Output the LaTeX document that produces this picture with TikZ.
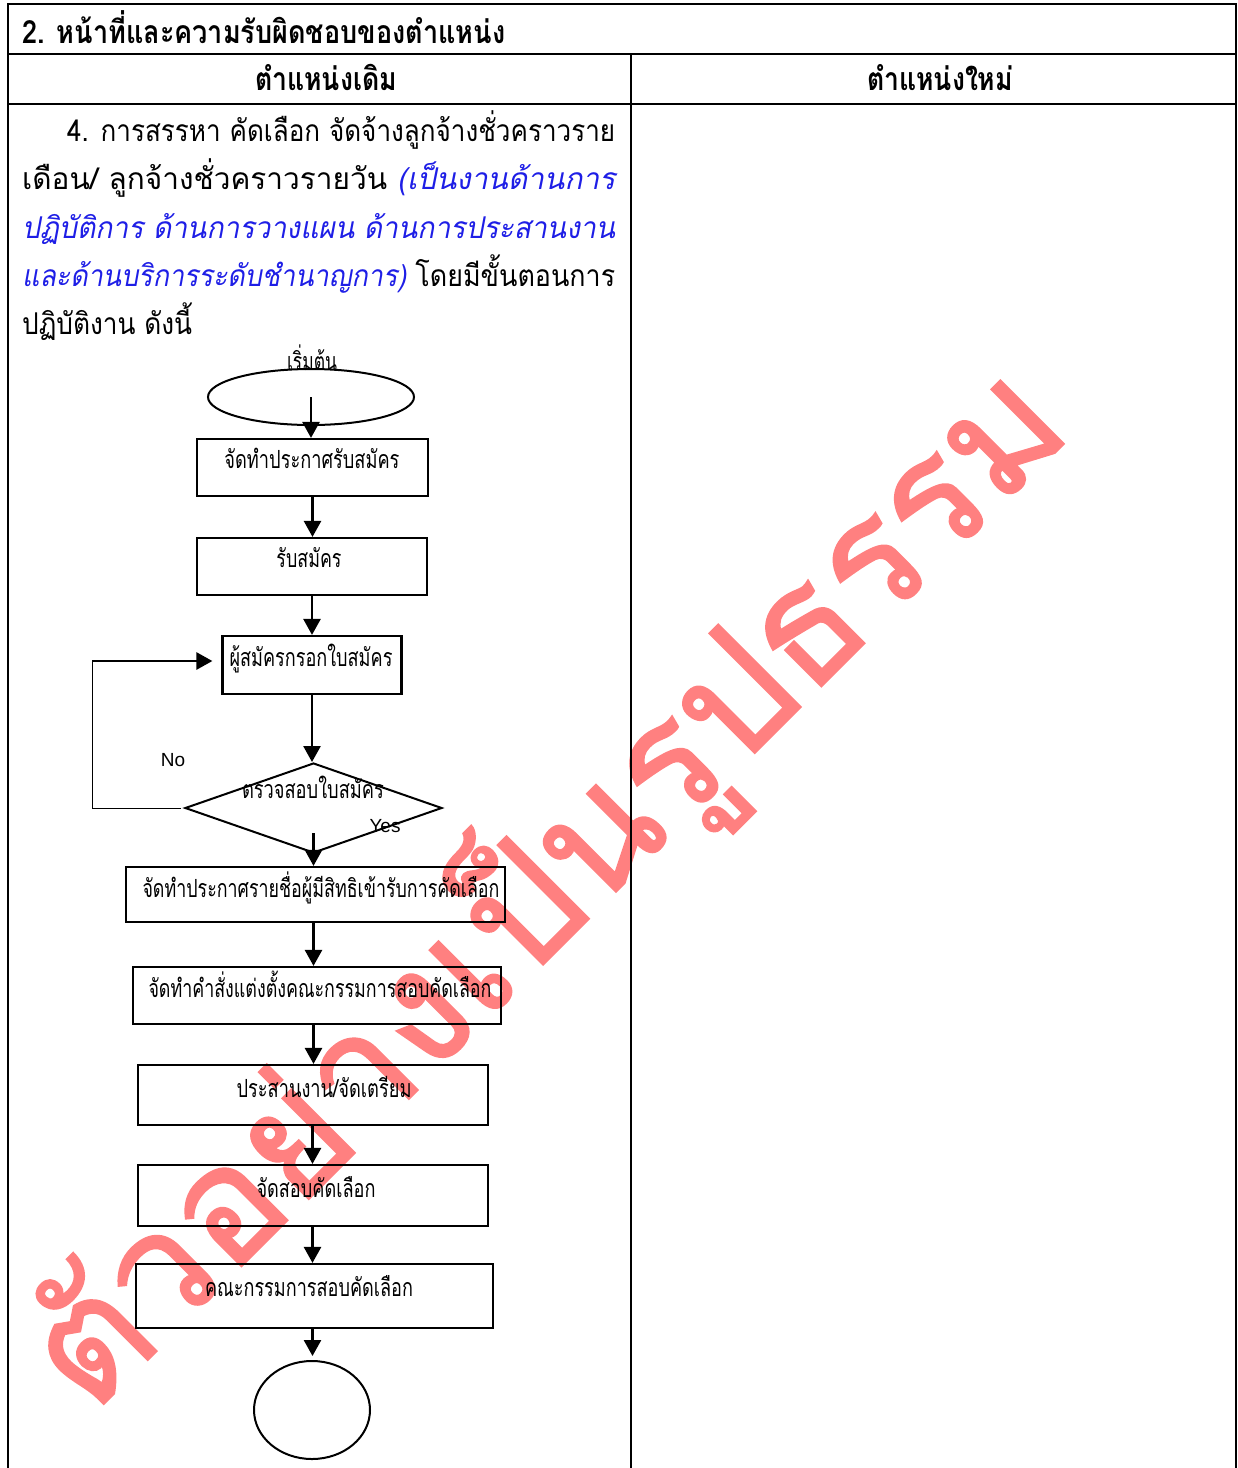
\documentclass[tikz,border=0pt]{standalone}
\usepackage{fontspec}
\usepackage{graphicx}
\usetikzlibrary{shapes.geometric,arrows.meta}
\newfontfamily\thai[Script=Thai]{Loma}
\newfontfamily\thaisl[Script=Thai,FakeSlant=0.2]{Loma}
\newfontfamily\wmfont[Script=Thai,FakeBold=1.2]{Loma}
\newfontfamily\lat{Liberation Sans}
\definecolor{wm}{RGB}{255,128,128}
\definecolor{itblue}{RGB}{30,30,230}
\newcommand{\fw}[2]{\resizebox{#1pt}{\height}{#2}}
\begin{document}
\begin{tikzpicture}[x=1pt,y=-1pt,
  wmtext/.style={rotate=45, text=wm, inner sep=0pt},
  tline/.style={line width=2pt},
  boxn/.style={draw, line width=2.2pt, inner sep=0pt},
  ovaln/.style={draw, ellipse, line width=2pt, inner sep=0pt},
  diam/.style={draw, diamond, line width=2pt, inner sep=0pt},
  btxt/.style={anchor=base, inner sep=0pt, font=\thai\fontsize{25}{25}\selectfont},
  ltxt/.style={anchor=base west, inner sep=0pt, font=\thai\fontsize{30}{30}\selectfont},
  htxt/.style={anchor=base, inner sep=0pt, font=\thai\bfseries\fontsize{32}{32}\selectfont},
  arr/.style={line width=2.6pt, -{Triangle[length=16pt,width=17pt]}},
  yn/.style={inner sep=0pt, font=\lat\fontsize{19}{19}\selectfont}]
\useasboundingbox (0,0) rectangle (1238,1468);
% watermark
\node[wmtext] (wmk) at (545,887) {\resizebox{1390pt}{!}{\wmfont ตัวอย่างเป็นรูปธรรม}};
% table
\draw[tline] (8,1470) -- (8,4) -- (1236,4) -- (1236,1470);
\draw[tline] (8,54) -- (1236,54);
\draw[tline] (8,104) -- (1236,104);
\draw[tline] (631,54) -- (631,1470);
\node[htxt, anchor=base west] (title) at (22,43) {\fw{483}{2. หน้าที่และความรับผิดชอบของตำแหน่ง}};
\node[htxt] (hold) at (326,90) {\fw{142}{ตำแหน่งเดิม}};
\node[htxt] (hnew) at (940,90) {\fw{146}{ตำแหน่งใหม่}};
% body text
\node[ltxt] (l1) at (67,141) {\fw{548}{4. การสรรหา คัดเลือก จัดจ้างลูกจ้างชั่วคราวราย}};
\node[ltxt] (l2) at (22,189) {\fw{593}{เดือน/ ลูกจ้างชั่วคราวรายวัน {\thaisl\color{itblue}(เป็นงานด้านการ}}};
\node[ltxt] (l3) at (22,238) {\fw{593}{\thaisl\color{itblue}ปฏิบัติการ ด้านการวางแผน ด้านการประสานงาน}};
\node[ltxt] (l4) at (22,286) {\fw{593}{{\thaisl\color{itblue}และด้านบริการระดับชำนาญการ)} โดยมีขั้นตอนการ}};
\node[ltxt] (l5) at (22,334) {\fw{170}{ปฏิบัติงาน ดังนี้}};
% flowchart shapes
\node[ovaln, minimum width=206pt, minimum height=56pt] (st) at (311,397) {};
\node[btxt] (stt) at (312,370) {\fw{50}{เริ่มต้น}};
\node[boxn, minimum width=231pt, minimum height=57pt] (b1) at (312.5,467.5) {};
\node[btxt] (b1t) at (312,468) {\fw{175}{จัดทำประกาศรับสมัคร}};
\node[boxn, minimum width=230pt, minimum height=57pt] (b2) at (312,566.5) {};
\node[btxt] (b2t) at (309,567) {\fw{65}{รับสมัคร}};
\node[boxn, minimum width=179pt, minimum height=58pt] (b3) at (312,665) {};
\node[btxt] (b3t) at (311,666) {\fw{163}{ผู้สมัครกรอกใบสมัคร}};
\node[diam, minimum width=257pt, minimum height=90pt] (dm) at (313.5,808) {};
\node[btxt] (dmt) at (313,798) {\fw{142}{ตรวจสอบใบสมัคร}};
\node[boxn, minimum width=379pt, minimum height=55pt] (b4) at (315.5,894.5) {};
\node[btxt] (b4t) at (321,897) {\fw{357}{จัดทำประกาศรายชื่อผู้มีสิทธิเข้ารับการคัดเลือก}};
\node[boxn, minimum width=368pt, minimum height=57pt] (b5) at (317,995.5) {};
\node[btxt] (b5t) at (320,997) {\fw{343}{จัดทำคำสั่งแต่งตั้งคณะกรรมการสอบคัดเลือก}};
\node[boxn, minimum width=350pt, minimum height=60pt] (b6) at (313,1095) {};
\node[btxt] (b6t) at (324,1097) {\fw{175}{ประสานงาน/จัดเตรียม}};
\node[boxn, minimum width=350pt, minimum height=61pt] (b7) at (313,1195.5) {};
\node[btxt] (b7t) at (316,1197) {\fw{119}{จัดสอบคัดเลือก}};
\node[boxn, minimum width=357pt, minimum height=64pt] (b8) at (314.5,1296) {};
\node[btxt] (b8t) at (309,1296) {\fw{208}{คณะกรรมการสอบคัดเลือก}};
\node[ovaln, minimum width=116pt, minimum height=98pt] (en) at (312,1410) {};
\node[yn] (no) at (173,760) {No};
\node[yn] (yes) at (385,826) {Yes};
% connectors
\draw[arr] (st.center) -- (st.center |- b1.north);
\draw[arr] (b1.south) -- (b1.south |- b2.north);
\draw[arr] (b2.south) -- (b2.south |- b3.north);
\draw[arr] (b3.south) -- (b3.south |- dm.north);
\draw[arr] ([yshift=21pt]dm.south) -- (dm.south |- b4.north);
\draw[arr] (b4.south -| dm.south) -- (dm.south |- b5.north);
\draw[arr] (b5.south -| dm.south) -- (dm.south |- b6.north);
\draw[arr] (b6.south -| b1.south) -- (b1.south |- b7.north);
\draw[arr] (b7.south -| b1.south) -- (b1.south |- b8.north);
\draw[arr] (b8.south -| b1.south) -- ([yshift=4pt]b1.south |- en.north);
\coordinate (lpA) at (92,808);
\coordinate (lpB) at (92,661);
\draw[line width=1pt] ([xshift=-3pt]dm.west) -- (lpA) -- (lpB);
\draw[arr, shorten >=9pt] (lpB) -- (lpB -| b3.west);
\end{tikzpicture}
\end{document}
